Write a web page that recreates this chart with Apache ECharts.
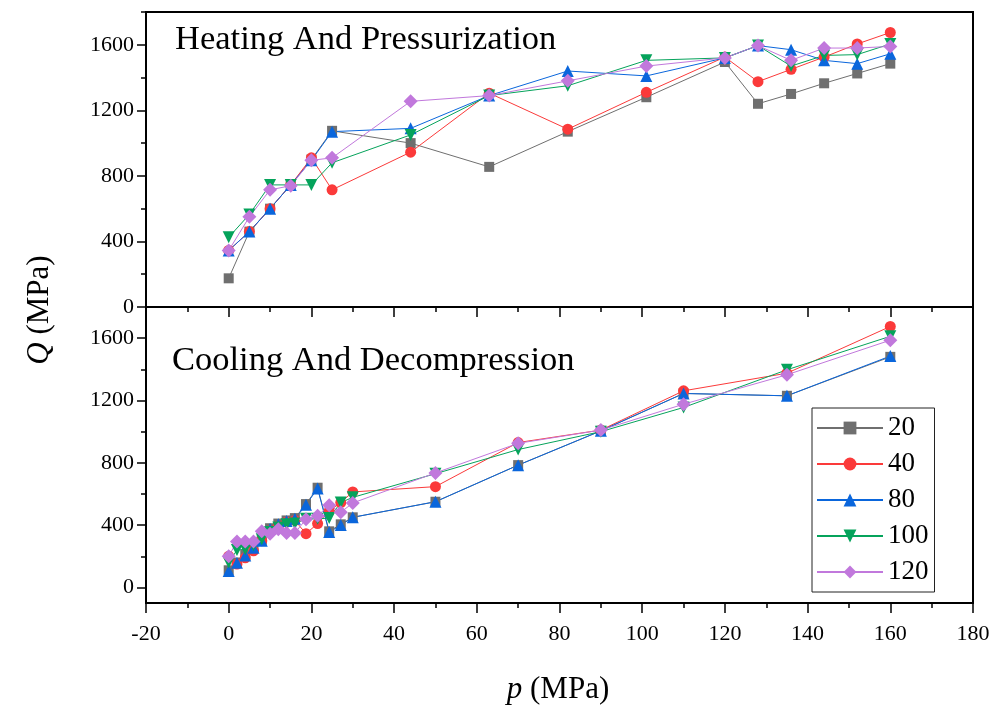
<!DOCTYPE html>
<html>
<head>
<meta charset="utf-8">
<script src="https://cdn.jsdelivr.net/npm/echarts@6/dist/echarts.min.js"></script>
<style>
  html, body { margin: 0; padding: 0; background: #ffffff; }
  #chart { width: 1005px; height: 711px; }
</style>
</head>
<body>
<div id="chart"></div>
<script>
// Pressure steps (MPa) for the two test stages
const heatP = [0, 5, 10, 15, 20, 25, 44, 63, 82, 101, 120, 128, 136, 144, 152, 160];
const coolP = [0, 2, 4, 6, 8, 10, 12, 14, 16, 18.7, 21.5, 24.3, 27.1, 30, 50, 70, 90, 110, 135, 160];

// Q (MPa) during heating and pressurization, one array per temperature
const heat20  = [175, 460, 600, 745, 900, 1075, 1000, 855, 1070, 1280, 1495, 1240, 1300, 1365, 1425, 1485];
const heat40  = [345, 460, 600, 745, 910, 715, 945, 1305, 1085, 1310, 1525, 1375, 1450, 1525, 1605, 1675];
const heat80  = [345, 460, 600, 745, 895, 1070, 1090, 1290, 1440, 1410, 1520, 1595, 1570, 1505, 1485, 1545];
const heat100 = [425, 565, 745, 745, 745, 880, 1050, 1290, 1350, 1505, 1520, 1595, 1470, 1535, 1540, 1605];
const heat120 = [345, 550, 715, 740, 895, 910, 1255, 1290, 1380, 1470, 1520, 1595, 1505, 1580, 1580, 1590];

// Q (MPa) during cooling and decompression
const cool20  = [110, 160, 210, 260, 305, 380, 410, 430, 445, 535, 640, 360, 405, 450, 550, 785, 1005, 1245, 1230, 1480];
const cool40  = [200, 150, 190, 235, 300, 365, 395, 420, 430, 345, 410, 490, 545, 613, 647, 930, 1010, 1262, 1375, 1675];
const cool80  = [105, 158, 205, 255, 300, 375, 405, 426, 440, 530, 635, 355, 400, 450, 550, 785, 1005, 1245, 1230, 1485];
const cool100 = [160, 240, 245, 270, 310, 355, 385, 405, 410, 440, 440, 445, 545, 578, 730, 885, 1000, 1155, 1397, 1612];
const cool120 = [200, 295, 295, 295, 360, 345, 373, 350, 350, 437, 460, 528, 482, 542, 735, 925, 1010, 1176, 1365, 1587];

// Legend names and tick values
const seriesNames = ['20', '40', '80', '100', '120'];
const xTicks = [-20, 0, 20, 40, 60, 80, 100, 120, 140, 160, 180];
const yMajorTicks = [0, 400, 800, 1200, 1600];
const yMinorTicks = [200, 600, 1000, 1400, 1800];

const heatSets = [heat20, heat40, heat80, heat100, heat120];
const coolSets = [cool20, cool40, cool80, cool100, cool120];

const FONT = '"Liberation Serif", "Times New Roman", serif';
const styles = [
  { color: '#6f6f6f', symbol: 'rect', size: 10, rotate: 0 },
  { color: '#fb3a3a', symbol: 'circle', size: 11, rotate: 0 },
  { color: '#0a66dc', symbol: 'triangle', size: 12, rotate: 0 },
  { color: '#05a35b', symbol: 'triangle', size: 12, rotate: 180 },
  { color: '#c178dc', symbol: 'diamond', size: 14, rotate: 0 }
];

function pairs(xs, ys) { return xs.map((x, i) => [x, ys[i]]); }

function makeSeries(gridIdx, xs, sets) {
  return sets.map((ys, i) => ({
    name: seriesNames[i],
    type: 'line',
    xAxisIndex: gridIdx === 0 ? 0 : 1,
    yAxisIndex: gridIdx === 0 ? 0 : 2,
    data: pairs(xs, ys),
    symbol: styles[i].symbol,
    symbolSize: styles[i].size,
    symbolRotate: styles[i].rotate,
    lineStyle: { color: styles[i].color, width: 1 },
    itemStyle: { color: styles[i].color },
    emphasis: { disabled: true },
    animation: false
  }));
}

const plainNumber = v => String(v);
const axisLabelStyle = { color: '#000', fontFamily: FONT, fontSize: 22, formatter: plainNumber };
const blackLine = { color: '#000', width: 2 };
const tickLine = { color: '#000', width: 1.5 };

function xAxisBase(gridIndex, position) {
  return {
    type: 'value', gridIndex, position, min: -20, max: 180, interval: 20,
    splitLine: { show: false }, minorSplitLine: { show: false }
  };
}

function yMajor(gridIndex, min) {
  return {
    type: 'value', gridIndex, position: 'left', min, max: 1800,
    axisLine: { show: true, onZero: false, lineStyle: blackLine },
    axisTick: { show: true, customValues: yMajorTicks, length: 9, lineStyle: tickLine },
    axisLabel: Object.assign({ customValues: yMajorTicks, margin: 12 }, axisLabelStyle),
    splitLine: { show: false }
  };
}

function yMinor(gridIndex, min) {
  return {
    type: 'value', gridIndex, position: 'left', min, max: 1800,
    axisLine: { show: false, onZero: false },
    axisTick: { show: true, customValues: yMinorTicks, length: 5, lineStyle: tickLine },
    axisLabel: { show: false },
    splitLine: { show: false }
  };
}

const chart = echarts.init(document.getElementById('chart'), null, { renderer: 'canvas' });

chart.setOption({
  animation: false,
  backgroundColor: '#ffffff',
  grid: [
    { left: 146, top: 12, width: 827, height: 295, show: true, borderColor: '#000', borderWidth: 2, backgroundColor: 'transparent' },
    { left: 146, top: 307, width: 827, height: 296, show: true, borderColor: '#000', borderWidth: 2, backgroundColor: 'transparent' }
  ],
  xAxis: [
    Object.assign(xAxisBase(0, 'bottom'), {
      axisLine: { show: false, onZero: false }, axisTick: { show: false }, axisLabel: { show: false }
    }),
    Object.assign(xAxisBase(1, 'bottom'), {
      axisLine: { show: true, onZero: false, lineStyle: blackLine },
      axisTick: { show: true, length: 10, lineStyle: tickLine },
      minorTick: { show: true, splitNumber: 2, length: 5, lineStyle: tickLine },
      axisLabel: Object.assign({ margin: 20, customValues: xTicks }, axisLabelStyle)
    }),
    Object.assign(xAxisBase(1, 'top'), {
      axisLine: { show: true, onZero: false, lineStyle: blackLine },
      axisTick: { show: true, inside: true, length: 10, lineStyle: tickLine },
      minorTick: { show: true, splitNumber: 2, length: 5, lineStyle: tickLine },
      axisLabel: { show: false }
    })
  ],
  yAxis: [
    yMajor(0, 0),
    yMinor(0, 0),
    yMajor(1, -100),
    yMinor(1, -100)
  ],
  legend: {
    orient: 'vertical',
    left: 812,
    top: 408,
    data: seriesNames,
    itemWidth: 66,
    itemHeight: 16,
    itemGap: 6,
    padding: [5, 6, 5, 4],
    borderColor: '#222',
    borderWidth: 1,
    backgroundColor: '#fff',
    selectedMode: false,
    textStyle: { color: '#000', fontFamily: FONT, fontSize: 27, lineHeight: 30 }
  },
  graphic: [
    {
      type: 'text', left: 175, top: 22,
      style: { text: 'Heating And Pressurization', font: '34.5px ' + FONT, fill: '#000' }
    },
    {
      type: 'text', left: 172, top: 343,
      style: { text: 'Cooling And Decompression', font: '34.5px ' + FONT, fill: '#000' }
    },
    {
      type: 'text', x: 40, y: 310, rotation: Math.PI / 2,
      style: {
        text: '{i|Q} (MPa)', font: '31px ' + FONT, fill: '#000',
        align: 'center', verticalAlign: 'middle',
        rich: { i: { fontStyle: 'italic', font: 'italic 31px ' + FONT } }
      }
    },
    {
      type: 'text', x: 558, y: 690,
      style: {
        text: '{i|p} (MPa)', font: '31px ' + FONT, fill: '#000',
        align: 'center', verticalAlign: 'middle',
        rich: { i: { fontStyle: 'italic', font: 'italic 31px ' + FONT } }
      }
    }
  ],
  series: makeSeries(0, heatP, heatSets).concat(makeSeries(1, coolP, coolSets))
});
</script>
</body>
</html>
